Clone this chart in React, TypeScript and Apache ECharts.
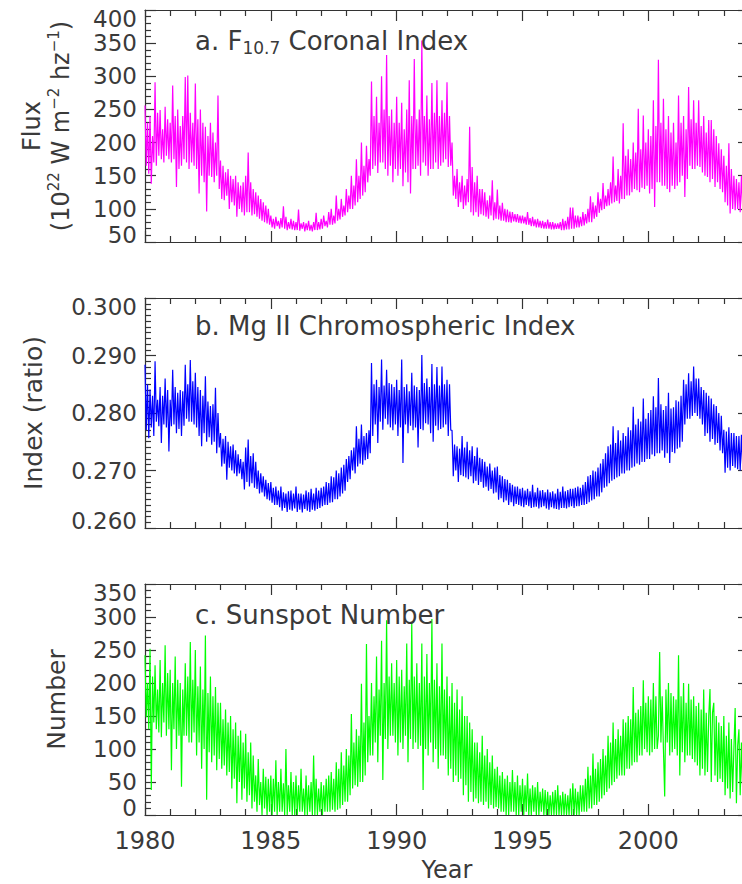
import React, { useEffect, useRef } from "react";
import * as echarts from "echarts";

const START_YEAR = 1980;
const STEP = 0.05;
const YEAR_LABELS = [1980, 1985, 1990, 1995, 2000];

// F10.7 coronal index, one reading per 0.05 yr (20 per row = one year)
const F107 = [
  256, 165, 230, 153, 240, 138, 210, 170, 291, 165, 245, 180, 249, 175, 220, 170, 254, 180, 235, 175,
  230, 170, 286, 175, 240, 133, 250, 160, 225, 165, 240, 175, 299, 170, 301, 160, 245, 170, 230, 165,
  289, 160, 235, 123, 250, 150, 230, 140, 224, 96, 210, 150, 230, 148, 215, 140, 200, 150, 271, 130,
  173, 115, 165, 113, 155, 120, 160, 100, 150, 110, 145, 105, 150, 88, 140, 100, 135, 95, 140, 90,
  150, 95, 185, 95, 140, 90, 130, 92, 125, 88, 120, 85, 115, 82, 110, 80, 105, 78, 100, 76,
  90, 72, 85, 70, 88, 74, 82, 70, 86, 72, 104, 70, 88, 68, 80, 70, 85, 69, 82, 68,
  80, 68, 99, 67, 78, 70, 80, 66, 78, 68, 82, 67, 76, 66, 80, 68, 94, 68, 80, 69,
  85, 70, 90, 74, 82, 72, 95, 76, 100, 76, 90, 78, 120, 82, 100, 84, 115, 88, 105, 90,
  130, 95, 120, 100, 150, 100, 135, 105, 175, 110, 150, 115, 200, 120, 165, 125, 195, 140, 175, 150,
  292, 160, 240, 165, 269, 154, 230, 170, 300, 170, 250, 160, 332, 150, 240, 165, 250, 140, 230, 160,
  269, 150, 230, 160, 260, 134, 220, 155, 250, 140, 294, 123, 240, 160, 326, 160, 235, 165, 250, 150,
  354, 170, 240, 165, 271, 150, 235, 160, 290, 160, 245, 170, 294, 160, 240, 165, 264, 170, 245, 175,
  291, 163, 240, 165, 200, 120, 150, 115, 160, 103, 140, 110, 150, 100, 135, 105, 145, 110, 224, 95,
  163, 90, 140, 95, 150, 88, 130, 92, 130, 90, 125, 88, 113, 85, 120, 90, 143, 83, 110, 85,
  129, 84, 105, 82, 109, 82, 100, 80, 99, 80, 96, 79, 95, 81, 92, 80, 92, 79, 90, 78,
  90, 78, 88, 76, 95, 76, 86, 74, 88, 74, 84, 72, 85, 72, 82, 71, 82, 70, 80, 70,
  84, 70, 80, 69, 80, 69, 78, 70, 78, 70, 80, 68, 85, 68, 82, 69, 88, 69, 102, 70,
  102, 70, 90, 72, 90, 72, 88, 74, 95, 75, 92, 78, 100, 80, 119, 80, 110, 85, 105, 88,
  125, 94, 115, 98, 139, 100, 120, 104, 130, 105, 140, 108, 179, 110, 135, 112, 160, 108, 150, 115,
  229, 115, 180, 120, 190, 120, 175, 125, 200, 130, 185, 128, 251, 125, 190, 132, 241, 130, 200, 135,
  220, 123, 210, 130, 264, 103, 225, 140, 325, 140, 230, 135, 266, 135, 220, 130, 240, 125, 215, 135,
  230, 130, 200, 135, 271, 140, 230, 150, 240, 118, 220, 145, 284, 165, 235, 160, 264, 160, 230, 165,
  264, 163, 225, 155, 240, 150, 215, 148, 234, 140, 234, 145, 220, 133, 210, 140, 199, 130, 190, 125,
  180, 110, 165, 105, 199, 93, 160, 100, 150, 98, 145, 100, 140, 95, 150, 100, 150, 100, 135, 95,
  130,
];

// Mg II chromospheric index
const MGII = [
  0.2884, 0.277, 0.285, 0.2756, 0.2841, 0.2775, 0.283, 0.276, 0.289, 0.2785, 0.2823, 0.2777, 0.2845, 0.2748, 0.283, 0.278, 0.286, 0.2775, 0.284, 0.2733,
  0.2823, 0.2777, 0.2875, 0.278, 0.2845, 0.2765, 0.2835, 0.2772, 0.284, 0.276, 0.2838, 0.2778, 0.2884, 0.279, 0.285, 0.2785, 0.2892, 0.2785, 0.2855, 0.278,
  0.287, 0.2775, 0.2845, 0.276, 0.284, 0.2742, 0.283, 0.2765, 0.2864, 0.275, 0.282, 0.2758, 0.2812, 0.2745, 0.2815, 0.275, 0.2844, 0.273, 0.28, 0.274,
  0.2765, 0.2707, 0.2755, 0.2712, 0.276, 0.2684, 0.275, 0.2705, 0.2742, 0.27, 0.2745, 0.2695, 0.2735, 0.269, 0.2728, 0.2695, 0.272, 0.2685, 0.2715, 0.2667,
  0.274, 0.268, 0.2754, 0.2672, 0.2725, 0.2678, 0.273, 0.267, 0.2715, 0.2668, 0.27, 0.266, 0.2695, 0.2662, 0.269, 0.2655, 0.2684, 0.265, 0.2678, 0.2648,
  0.268, 0.2644, 0.267, 0.264, 0.2672, 0.264, 0.2665, 0.2636, 0.2672, 0.263, 0.2662, 0.2635, 0.266, 0.2628, 0.2664, 0.2632, 0.2665, 0.263, 0.266, 0.2634,
  0.2672, 0.2628, 0.266, 0.2632, 0.266, 0.2627, 0.2658, 0.2633, 0.2665, 0.263, 0.2662, 0.2628, 0.2668, 0.2632, 0.266, 0.263, 0.267, 0.2633, 0.2665, 0.2635,
  0.267, 0.2638, 0.2672, 0.264, 0.268, 0.264, 0.2678, 0.2644, 0.269, 0.2645, 0.2688, 0.265, 0.27, 0.265, 0.2695, 0.2655, 0.2705, 0.266, 0.271, 0.2665,
  0.272, 0.268, 0.2725, 0.2685, 0.2735, 0.27, 0.274, 0.2695, 0.2777, 0.2707, 0.2755, 0.2712, 0.278, 0.271, 0.276, 0.2718, 0.2765, 0.272, 0.277, 0.273,
  0.2887, 0.276, 0.285, 0.278, 0.2858, 0.2748, 0.2845, 0.2785, 0.2893, 0.2771, 0.2848, 0.279, 0.2875, 0.278, 0.2852, 0.2775, 0.285, 0.277, 0.2845, 0.278,
  0.2858, 0.276, 0.284, 0.2775, 0.2893, 0.2713, 0.2845, 0.278, 0.285, 0.2765, 0.2838, 0.2778, 0.287, 0.277, 0.2848, 0.2775, 0.2845, 0.274, 0.284, 0.2772,
  0.2901, 0.277, 0.2852, 0.2782, 0.286, 0.278, 0.2845, 0.2765, 0.2885, 0.275, 0.285, 0.2778, 0.288, 0.277, 0.2848, 0.2772, 0.2881, 0.2775, 0.285, 0.278,
  0.2858, 0.276, 0.285, 0.277, 0.277, 0.269, 0.2745, 0.27, 0.2742, 0.268, 0.2738, 0.2692, 0.276, 0.269, 0.274, 0.2688, 0.275, 0.2685, 0.2735, 0.269,
  0.2742, 0.2678, 0.2725, 0.2682, 0.274, 0.2675, 0.2722, 0.268, 0.272, 0.267, 0.2715, 0.2672, 0.2707, 0.2665, 0.2712, 0.2668, 0.27, 0.266, 0.2705, 0.2662,
  0.2707, 0.2649, 0.2692, 0.2652, 0.269, 0.2645, 0.2685, 0.2648, 0.2684, 0.264, 0.2678, 0.2645, 0.2675, 0.2638, 0.2672, 0.2642, 0.2672, 0.264, 0.2668, 0.2638,
  0.267, 0.2636, 0.2665, 0.264, 0.2668, 0.2638, 0.2664, 0.2635, 0.2675, 0.2636, 0.2662, 0.2637, 0.267, 0.2634, 0.2665, 0.2636, 0.2666, 0.2638, 0.2662, 0.2634,
  0.2667, 0.2632, 0.2662, 0.2636, 0.2664, 0.2634, 0.266, 0.2633, 0.2668, 0.2632, 0.2663, 0.2635, 0.2672, 0.2635, 0.2664, 0.2634, 0.2666, 0.2636, 0.2668, 0.2638,
  0.2668, 0.2635, 0.267, 0.2638, 0.2672, 0.2638, 0.267, 0.264, 0.2675, 0.264, 0.268, 0.2642, 0.269, 0.2645, 0.2692, 0.2648, 0.27, 0.265, 0.2698, 0.2655,
  0.2705, 0.2655, 0.2712, 0.2662, 0.272, 0.267, 0.273, 0.2672, 0.2742, 0.2678, 0.2745, 0.2682, 0.2777, 0.2685, 0.2748, 0.2688, 0.277, 0.269, 0.2752, 0.2695,
  0.2765, 0.2695, 0.276, 0.27, 0.2775, 0.27, 0.277, 0.2705, 0.2811, 0.2707, 0.278, 0.2712, 0.279, 0.271, 0.2785, 0.2715, 0.2825, 0.2715, 0.279, 0.272,
  0.28, 0.272, 0.2805, 0.2728, 0.2829, 0.2725, 0.281, 0.273, 0.2861, 0.273, 0.2815, 0.2735, 0.2805, 0.2722, 0.2812, 0.273, 0.2835, 0.2713, 0.2808, 0.2732,
  0.281, 0.273, 0.2822, 0.2738, 0.282, 0.274, 0.283, 0.275, 0.2858, 0.278, 0.285, 0.279, 0.2869, 0.279, 0.2855, 0.2795, 0.2881, 0.28, 0.286, 0.2795,
  0.286, 0.279, 0.2845, 0.278, 0.284, 0.276, 0.2835, 0.2765, 0.283, 0.275, 0.2825, 0.2755, 0.2815, 0.2745, 0.2812, 0.2748, 0.28, 0.2735, 0.2795, 0.273,
  0.2771, 0.2696, 0.2768, 0.2705, 0.2775, 0.27, 0.2765, 0.2708, 0.2765, 0.2705, 0.276, 0.2702, 0.276, 0.27, 0.2762, 0.2705, 0.277, 0.271, 0.2758, 0.2705,
  0.274,
];

// Sunspot number
const SSN = [
  242, 148, 200, 130, 252, 38, 210, 140, 227, 130, 190, 125, 235, 118, 200, 140, 257, 120, 215, 130,
  220, 68, 200, 130, 240, 100, 205, 120, 200, 43, 190, 120, 230, 120, 210, 110, 262, 110, 205, 125,
  250, 90, 195, 110, 225, 70, 190, 100, 272, 23, 185, 95, 210, 80, 180, 90, 194, 68, 170, 85,
  170, 70, 145, 75, 160, 60, 140, 65, 150, 40, 130, 55, 140, 18, 120, 50, 128, 23, 110, 40,
  123, 20, 95, 30, 110, 10, 90, 20, 60, 5, 85, 15, 50, 0, 70, 10, 58, 0, 55, 5,
  60, 0, 55, 5, 83, 0, 50, 5, 70, 5, 48, 0, 100, 0, 45, 5, 65, 0, 50, 0,
  60, 0, 45, 5, 70, 5, 40, 0, 60, 0, 45, 5, 50, 0, 90, 0, 55, 0, 40, 5,
  50, 0, 45, 5, 55, 5, 60, 5, 65, 8, 55, 5, 80, 8, 70, 10, 95, 15, 75, 20,
  100, 20, 90, 30, 153, 40, 110, 45, 130, 43, 120, 50, 199, 50, 140, 60, 259, 80, 150, 90,
  200, 90, 180, 110, 240, 80, 190, 120, 264, 53, 200, 115, 295, 100, 210, 120, 230, 120, 200, 110,
  235, 90, 210, 110, 220, 100, 195, 120, 260, 80, 205, 115, 292, 100, 210, 110, 230, 100, 200, 105,
  260, 38, 210, 100, 244, 90, 200, 110, 297, 80, 205, 100, 230, 70, 195, 90, 260, 90, 190, 85,
  210, 60, 180, 70, 200, 50, 170, 60, 190, 50, 160, 55, 180, 30, 150, 45, 150, 20, 140, 35,
  130, 20, 110, 25, 110, 18, 95, 20, 120, 15, 90, 20, 100, 10, 80, 15, 90, 10, 70, 12,
  73, 10, 60, 5, 65, 5, 55, 0, 60, 0, 50, 5, 68, 5, 50, 0, 60, 0, 45, 5,
  55, 0, 45, 5, 63, 0, 40, 0, 45, 5, 42, 0, 50, 0, 35, 5, 40, 0, 38, 0,
  35, 0, 30, 0, 35, 0, 38, 0, 45, 0, 30, 0, 35, 0, 32, 0, 30, 0, 40, 0,
  48, 0, 40, 0, 35, 0, 45, 5, 45, 5, 55, 5, 73, 10, 60, 10, 93, 15, 70, 15,
  80, 20, 85, 25, 100, 30, 90, 35, 120, 40, 110, 45, 140, 50, 115, 55, 130, 60, 120, 60,
  145, 60, 140, 70, 150, 70, 145, 75, 194, 80, 155, 80, 160, 90, 165, 90, 204, 100, 170, 95,
  180, 90, 175, 95, 200, 100, 180, 100, 120, 247, 110, 180, 100, 28, 190, 110, 200, 90, 185, 95,
  180, 100, 175, 90, 242, 60, 180, 95, 200, 80, 170, 90, 199, 90, 175, 85, 180, 80, 165, 75,
  170, 60, 160, 70, 190, 60, 155, 65, 150, 191, 50, 155, 170, 60, 150, 50, 140, 55, 135, 50,
  150, 30, 120, 40, 140, 25, 115, 35, 100, 162, 18, 105, 130, 30, 110, 35, 120, 30, 100, 40,
  110,
];

const FONT = "DejaVu Sans";
const TEXT = "#3a3a3a";
const AXIS = "#333333";

function toPairs(arr: number[]) {
  return arr.map((v, i) => [Math.round((START_YEAR + i * STEP) * 1000) / 1000, v]);
}

function xAxes(gridIndex: number, showLabels: boolean) {
  const common = {
    type: "value",
    gridIndex,
    min: 1980,
    max: 2004,
    interval: 5,
    axisLine: { show: true, onZero: false, lineStyle: { color: AXIS, width: 1.2 } },
    axisTick: { show: true, inside: true, length: 11, lineStyle: { color: AXIS, width: 1.2 } },
    minorTick: { show: true, splitNumber: 5, length: 6, lineStyle: { color: AXIS, width: 1.2 } },
    splitLine: { show: false },
    minorSplitLine: { show: false },
  };
  return [
    {
      ...common,
      position: "bottom",
      axisLabel: {
        show: showLabels,
        hideOverlap: false,
        margin: 14,
        fontSize: 24,
        fontFamily: FONT,
        color: TEXT,
        formatter: (v: number) => (YEAR_LABELS.indexOf(v) >= 0 ? String(v) : ""),
      },
      name: showLabels ? "Year" : "",
      nameLocation: "middle",
      nameGap: 43,
      nameTextStyle: { fontSize: 24, lineHeight: 24, fontFamily: FONT, color: TEXT },
    },
    { ...common, position: "top", axisLabel: { show: false } },
  ];
}

function yAxes(
  gridIndex: number,
  min: number,
  max: number,
  interval: number,
  minorSplit: number,
  digits: number,
  name: string,
  nameGap: number,
  nameRich?: any
) {
  const base = { fontSize: 23, fontFamily: FONT, color: TEXT, lineHeight: 20 };
  const common = {
    type: "value",
    gridIndex,
    min,
    max,
    interval,
    axisLine: { show: true, onZero: false, lineStyle: { color: AXIS, width: 1.2 } },
    axisTick: { show: true, inside: true, length: 11, lineStyle: { color: AXIS, width: 1.2 } },
    minorTick: { show: true, splitNumber: minorSplit, length: 6, lineStyle: { color: AXIS, width: 1.2 } },
    splitLine: { show: false },
    minorSplitLine: { show: false },
  };
  return [
    {
      ...common,
      position: "left",
      axisLabel: {
        show: true,
        hideOverlap: false,
        showMinLabel: true,
        showMaxLabel: true,
        margin: 8,
        ...base,
        formatter: (v: number) => {
          const s = v.toFixed(digits);
          if (Math.abs(v - max) < 1e-9) return `{hi|${s}}`;
          if (Math.abs(v - min) < 1e-9) return `{lo|${s}}`;
          return `{n|${s}}`;
        },
        rich: {
          n: { ...base },
          hi: { ...base, padding: [18, 0, 0, 0] },
          lo: { ...base, padding: [0, 0, 15, 0] },
        },
      },
      name,
      nameLocation: "middle",
      nameGap,
      nameTextStyle: nameRich
        ? { fontSize: 24, fontFamily: FONT, color: TEXT, rich: nameRich }
        : { fontSize: 25, fontFamily: FONT, color: TEXT, lineHeight: 29 },
    },
    { ...common, position: "right", axisLabel: { show: false } },
  ];
}

const titleRich = {
  n: { fontSize: 26, fontFamily: FONT, fontWeight: "normal", color: TEXT, lineHeight: 30 },
  s: { fontSize: 17, fontFamily: FONT, fontWeight: "normal", color: TEXT, lineHeight: 17, verticalAlign: "bottom" },
};

const fluxRich = {
  n: { fontSize: 24, fontFamily: FONT, color: TEXT, lineHeight: 29 },
  p: { fontSize: 15, fontFamily: FONT, color: TEXT, lineHeight: 15, verticalAlign: "top" },
};

export default function App() {
  const ref = useRef<HTMLDivElement>(null);
  useEffect(() => {
    if (!ref.current) return;
    const chart = echarts.init(ref.current, null, { renderer: "svg" });
    const titleStyle = { fontWeight: "normal", rich: titleRich };
    const gridCommon = { left: 145, width: 604, containLabel: false, outerBoundsMode: "none" };
    const option: any = {
      animation: false,
      backgroundColor: "#ffffff",
      title: [
        { text: "{n|a. F}{s|10.7}{n| Coronal Index}", left: 195, top: 26, padding: 0, textStyle: titleStyle },
        { text: "{n|b. Mg II Chromospheric Index}", left: 195, top: 311, padding: 0, textStyle: titleStyle },
        { text: "{n|c. Sunspot Number}", left: 195, top: 600, padding: 0, textStyle: titleStyle },
      ],
      grid: [
        { ...gridCommon, top: 10, height: 232 },
        { ...gridCommon, top: 298, height: 230 },
        { ...gridCommon, top: 584, height: 231 },
      ],
      xAxis: [...xAxes(0, false), ...xAxes(1, false), ...xAxes(2, true)],
      yAxis: [
        ...yAxes(0, 50, 400, 50, 5, 0, "{n|Flux}\n{n|(10}{p|22}{n| W m}{p|−2}{n| hz}{p|−1}{n|)}", 70, fluxRich),
        ...yAxes(1, 0.26, 0.3, 0.01, 10, 3, "Index (ratio)", 97),
        ...yAxes(2, 0, 350, 50, 5, 0, "Number", 74),
      ],
      series: [
        {
          type: "line", xAxisIndex: 0, yAxisIndex: 0, data: toPairs(F107), showSymbol: false,
          lineStyle: { color: "#ff00ff", width: 1.2 }, itemStyle: { color: "#ff00ff" }, clip: true,
        },
        {
          type: "line", xAxisIndex: 2, yAxisIndex: 2, data: toPairs(MGII), showSymbol: false,
          lineStyle: { color: "#0000ff", width: 1.2 }, itemStyle: { color: "#0000ff" }, clip: true,
        },
        {
          type: "line", xAxisIndex: 4, yAxisIndex: 4, data: toPairs(SSN), showSymbol: false,
          lineStyle: { color: "#00ff00", width: 1.2 }, itemStyle: { color: "#00ff00" }, clip: true,
        },
      ],
    };
    chart.setOption(option);
    return () => chart.dispose();
  }, []);
  return (
    <div style={{ position: "fixed", left: 0, top: 0, width: 742, height: 884, overflow: "hidden", background: "#fff" }}>
      <div ref={ref} style={{ width: 760, height: 884 }} />
    </div>
  );
}
